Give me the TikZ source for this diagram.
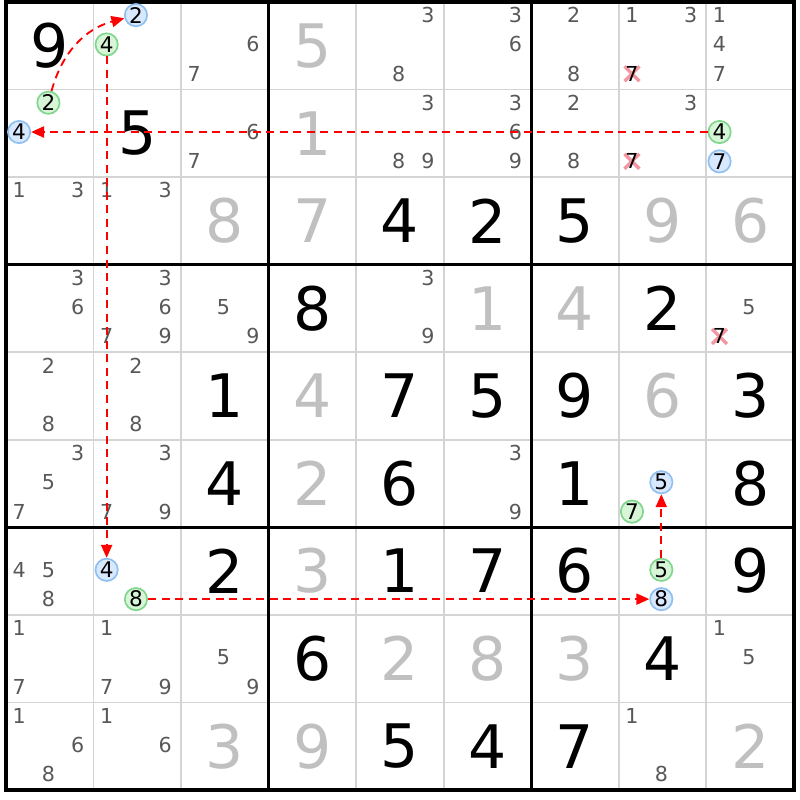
\documentclass[tikz,border=0pt]{standalone}
\usepackage{fontspec}
\setmainfont{DejaVu Sans}
\usetikzlibrary{arrows.meta}

\definecolor{geloest}{RGB}{192,192,192}
\definecolor{kandidat}{RGB}{88,88,88}
\definecolor{gitter}{RGB}{212,212,212}
\definecolor{gruenrand}{RGB}{128,214,140}
\definecolor{gruenfill}{RGB}{216,245,216}
\definecolor{blaurand}{RGB}{144,192,240}
\definecolor{blaufill}{RGB}{216,232,255}
\definecolor{kreuz}{RGB}{242,150,162}

\tikzset{
	gross/.style={font=\fontsize{19.5}{19.5}\selectfont, inner sep=0pt},
	klein/.style={font=\fontsize{6.7}{6.7}\selectfont, text=kandidat, inner sep=0pt},
	markiert/.style={circle, line width=0.55pt, minimum size=0.255cm, inner sep=0pt, font=\fontsize{7}{7}\selectfont},
	gruen/.style={markiert, draw=gruenrand, fill=gruenfill},
	blau/.style={markiert, draw=blaurand, fill=blaufill},
	kette/.style={red, line width=0.6pt, dash pattern=on 2.6pt off 1.8pt, -{Triangle[length=4.2pt,width=3.6pt]}}
}

\begin{document}
\begin{tikzpicture}
\useasboundingbox (-0.068,-0.114) rectangle (9.06,9.023);

%Gitter
\foreach \i in {1,...,8}
{
	\draw[color=gitter, line width=0.6pt] (\i,0) -- (\i,9);
	\draw[color=gitter, line width=0.6pt] (0,\i) -- (9,\i);
}
\foreach \i in {0,3,6,9}
{
	\draw[line width=1.1pt] (\i,-0.02) -- (\i,9.02);
	\draw[line width=1.1pt] (-0.02,\i) -- (9.02,\i);
}

%Vorgaben
\foreach \r/\c/\z in
{
0/0/9, 1/1/5, 2/4/4, 2/5/2, 2/6/5, 3/3/8, 3/7/2,
4/2/1, 4/4/7, 4/5/5, 4/6/9, 4/8/3, 5/2/4, 5/4/6,
5/6/1, 5/8/8, 6/2/2, 6/4/1, 6/5/7, 6/6/6, 6/8/9,
7/3/6, 7/7/4, 8/4/5, 8/5/4, 8/6/7
}
{
	\node[gross] (z\r\c) at (\c+0.5,8.5-\r) {\z};
}

%Geloeste Felder
\foreach \r/\c/\z in
{
0/3/5, 1/3/1, 2/2/8, 2/3/7, 2/7/9, 2/8/6, 3/5/1,
3/6/4, 4/3/4, 4/7/6, 5/3/2, 6/3/3, 7/4/2, 7/5/8,
7/6/3, 8/2/3, 8/3/9, 8/8/2
}
{
	\node[gross, text=geloest] (z\r\c) at (\c+0.5,8.5-\r) {\z};
}

%Kandidaten
\foreach \r/\c/\d in
{
0/2/6, 0/2/7, 0/4/3, 0/4/8, 0/5/3, 0/5/6, 0/6/2, 0/6/8,
0/7/1, 0/7/3, 0/8/1, 0/8/4, 0/8/7,
1/2/6, 1/2/7, 1/4/3, 1/4/8, 1/4/9, 1/5/3, 1/5/6, 1/5/9,
1/6/2, 1/6/8, 1/7/3,
2/0/1, 2/0/3, 2/1/1, 2/1/3,
3/0/3, 3/0/6, 3/1/3, 3/1/6, 3/1/7, 3/1/9, 3/2/5, 3/2/9,
3/4/3, 3/4/9, 3/8/5,
4/0/2, 4/0/8, 4/1/2, 4/1/8,
5/0/3, 5/0/5, 5/0/7, 5/1/3, 5/1/7, 5/1/9, 5/5/3, 5/5/9,
6/0/4, 6/0/5, 6/0/8,
7/0/1, 7/0/7, 7/1/1, 7/1/7, 7/1/9, 7/2/5, 7/2/9, 7/8/1, 7/8/5,
8/0/1, 8/0/6, 8/0/8, 8/1/1, 8/1/6, 8/7/1, 8/7/8
}
{
	\node[klein] (k\r\c\d) at ({\c+0.15+0.335*mod(\d-1,3)},{8.85-\r-0.335*div(\d-1,3)}) {\d};
}

%Gestrichene Kandidaten
\foreach \r/\c in {0/7, 1/7, 3/8}
{
	\coordinate (x\r\c) at (\c+0.15,8.18-\r);
	\draw[color=kreuz, line width=1.1pt] (x\r\c) ++(-0.085,-0.085) -- ++(0.17,0.17);
	\draw[color=kreuz, line width=1.1pt] (x\r\c) ++(-0.085,0.085) -- ++(0.17,-0.17);
	\node[klein, text=black] (k\r\c7) at (x\r\c) {7};
}

%Markierte Kandidaten
\foreach \r/\c/\d in {1/0/2, 1/8/4, 0/1/4, 6/1/8, 6/7/5, 5/7/7}
{
	\node[gruen] (k\r\c\d) at ({\c+0.15+0.335*mod(\d-1,3)},{8.85-\r-0.335*div(\d-1,3)}) {\d};
}
\foreach \r/\c/\d in {0/1/2, 1/0/4, 6/1/4, 6/7/8, 5/7/5, 1/8/7}
{
	\node[blau] (k\r\c\d) at ({\c+0.15+0.335*mod(\d-1,3)},{8.85-\r-0.335*div(\d-1,3)}) {\d};
}

%Kette
\draw[kette] (k102) to[bend left=30] (k012);
\draw[kette] (k184) -- (k104);
\draw[kette] (k014) -- (k614);
\draw[kette] (k618) -- (k678);
\draw[kette] (k675) -- (k575);

\end{tikzpicture}
\end{document}
